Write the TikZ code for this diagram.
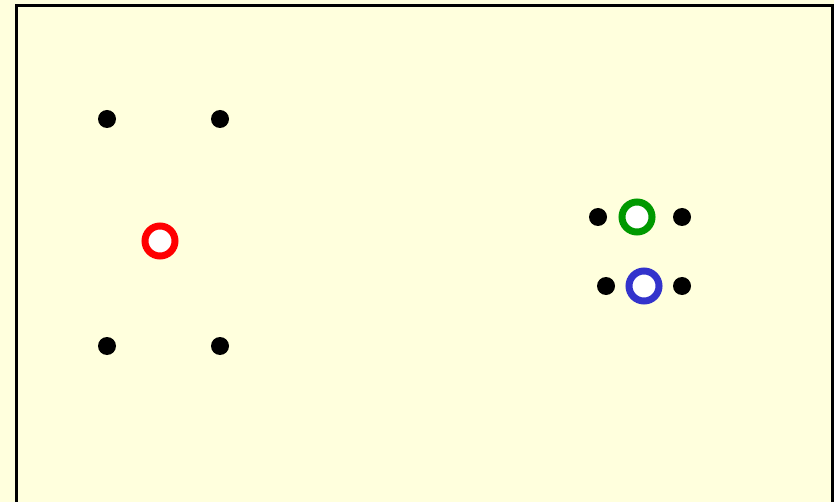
\documentclass[tikz,border=0pt]{standalone}
\begin{document}
\begin{tikzpicture}[x=1pt,y=-1pt,
  dot/.style={circle,fill=black,inner sep=0pt,minimum size=18pt},
  ring/.style={circle,draw=#1,fill=white,line width=7pt,inner sep=0pt,minimum size=30pt}]
\definecolor{bg}{HTML}{FFFFDD}
\definecolor{rg}{HTML}{009900}
\definecolor{rb}{HTML}{3333CC}
\fill[bg] (0,0) rectangle (834,502);
\useasboundingbox (0,0) rectangle (834,502);
\draw[line width=3pt,fill=bg] (16.5,506) -- (16.5,6) -- (832,6) -- (832,506);
\node[dot] (a1) at (107,119) {};
\node[dot] (a2) at (220,119) {};
\node[dot] (a3) at (107,346) {};
\node[dot] (a4) at (220,346) {};
\node[ring=red] (r) at (160,241) {};
\node[dot] (b1) at (598,217) {};
\node[dot] (b2) at (682,217) {};
\node[ring=rg] (g) at (637,217) {};
\node[dot] (c1) at (606,286) {};
\node[dot] (c2) at (682,286) {};
\node[ring=rb] (b) at (644,286) {};
\end{tikzpicture}
\end{document}
